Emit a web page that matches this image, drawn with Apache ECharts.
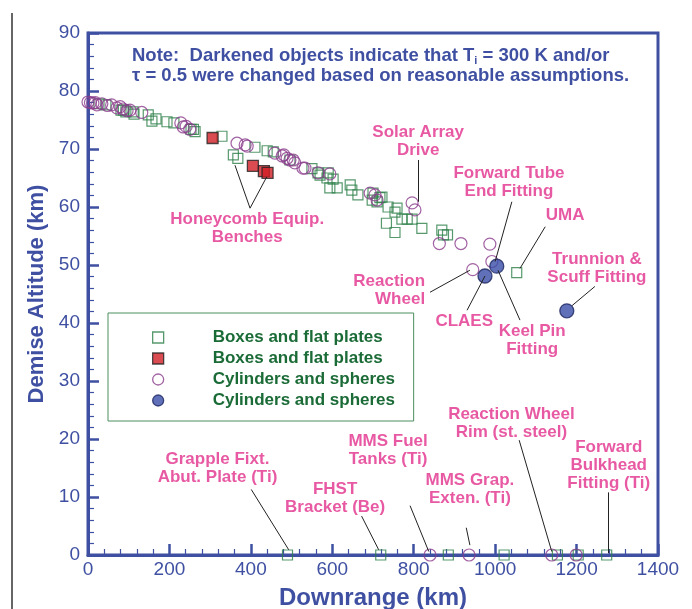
<!DOCTYPE html>
<html>
<head>
<meta charset="utf-8">
<script src="https://cdn.jsdelivr.net/npm/echarts@6/dist/echarts.min.js"></script>
<style>
  html, body { margin: 0; padding: 0; background: #fff; }
  #chart { width: 692px; height: 609px; }
</style>
</head>
<body>
<div id="chart"></div>
<script>
// Demise altitude against downrange for spacecraft components, [downrange km, altitude km]

const boxes = [
  [27,77.8],[44,77.6],[81,76.7],[87,76.7],[93,76.4],[111,76.4],[113,76.0],[148,75.9],[157,74.8],[167,75.2],
  [194,74.7],[211,74.5],[253,73.4],[259,73.4],[263,73.0],[329,72.2],[357,69.0],[368,68.4],[410,70.3],[440,69.7],
  [455,69.5],[496,68.1],[550,66.6],[565,65.9],[570,65.5],[587,65.0],[590,65.9],[602,64.8],[594,63.3],[612,63.3],
  [644,63.8],[648,62.9],[663,62.1],[698,61.2],[700,62.4],[710,60.9],[717,61.6],[722,61.7],[737,60.0],[754,59.1],
  [759,59.8],[733,57.2],[754,55.6],[771,57.9],[784,57.9],[796,57.9],[820,56.3],[869,56.0],[873,55.2],[883,55.2],
  [1053,48.7],
  [490,0],[719,0],[885,0],[1022,0],[1153,0],[1204,0],[1274,0]
];

const boxesDark = [[306,71.9],[405,67.1],[432,66.2],[441,65.9]];

const cylinders = [
  [0,78.1],[6,78.0],[12,77.9],[18,78.0],[22,77.6],[34,77.8],[48,77.5],[58,77.6],[71,77.1],[79,77.3],
  [86,76.9],[96,76.6],[103,76.7],[132,76.3],[228,74.5],[234,73.8],[241,73.9],[250,73.4],[366,71.0],[386,70.7],
  [391,70.5],[459,69.3],[477,68.8],[481,69.0],[489,68.4],[496,68.1],[504,68.1],[508,67.6],[528,66.7],[533,66.7],
  [565,65.9],[594,65.7],[693,62.4],[705,62.1],[710,61.2],[796,60.7],[803,59.5],[863,53.7],[916,53.7],[987,53.6],
  [992,50.6],[945,49.2],
  [840,0],[936,0],[1139,0],[1199,0]
];

const cylindersDark = [[975,48.1],[1004,49.8],[1176,42.1]];

const legendLabels = {
  boxes: 'Boxes and flat plates',
  boxesDark: 'Boxes and flat plates',
  cylinders: 'Cylinders and spheres',
  cylindersDark: 'Cylinders and spheres'
};

// Component call-outs: text anchored in data units
const notes = [
  { text: 'Solar Array\nDrive', at: [811, 71.4] },
  { text: 'Forward Tube\nEnd Fitting', at: [1034, 64.3] },
  { text: 'UMA', at: [1172, 58.6] },
  { text: 'Trunnion &\nScuff Fitting', at: [1250, 49.5] },
  { text: 'Reaction\nWheel', at: [828, 45.7], align: 'right' },
  { text: 'CLAES', at: [924, 40.3] },
  { text: 'Keel Pin\nFitting', at: [1091, 37.1] },
  { text: 'Honeycomb Equip.\nBenches', at: [391, 56.3] },
  { text: 'Grapple Fixt.\nAbut. Plate (Ti)', at: [318, 15.0] },
  { text: 'FHST\nBracket (Be)', at: [607, 9.8] },
  { text: 'MMS Fuel\nTanks (Ti)', at: [737, 18.0] },
  { text: 'MMS Grap.\nExten. (Ti)', at: [938, 11.3] },
  { text: 'Reaction Wheel\nRim (st. steel)', at: [1040, 22.7] },
  { text: 'Forward\nBulkhead\nFitting (Ti)', at: [1279, 15.4] }
];

// Leader lines from call-outs to their objects
const leaders = [
  [[811,68.1],[811,60.9]],
  [[1041,60.9],[1000,50.6]],
  [[1123,56.6],[1061,49.4]],
  [[1245,46.3],[1189,43.0]],
  [[840,45.3],[938,49.1]],
  [[931,42.2],[975,48.1]],
  [[1061,40.5],[1007,49.1]],
  [[398,59.8],[361,67.2]],
  [[398,59.8],[439,65.2]],
  [[401,11.3],[493,0.9]],
  [[672,6.7],[714,0.9]],
  [[791,8.5],[837,0.6]],
  [[929,4.7],[938,1.7]],
  [[1059,19.8],[1139,0.6]],
  [[1279,10.8],[1279,0.3]]
];

const FONT = '"Liberation Sans", Arial, Helvetica, sans-serif';
const BLUE = '#3f50a2';
const PINK = '#e22f8c';
const GREEN = '#2d7f48';
const PURPLE = '#8b3c8c';

const chart = echarts.init(document.getElementById('chart'), null, { renderer: 'canvas' });

const axisCommon = {
  type: 'value',
  axisLine: { show: true, onZero: false, lineStyle: { color: BLUE, width: 3 } },
  axisTick: { show: true, inside: true, length: 11, lineStyle: { color: BLUE, width: 2.5 } },
  minorTick: { show: true, splitNumber: 5, length: 6, lineStyle: { color: BLUE, width: 1.2 } },
  splitLine: { show: false },
  axisLabel: { color: BLUE, fontSize: 19, fontFamily: FONT, formatter: v => String(v) },
  nameLocation: 'middle',
  nameTextStyle: { color: BLUE, fontSize: 22, fontWeight: 'bold', fontFamily: FONT }
};

chart.setOption({
  animation: false,
  backgroundColor: '#fff',
  title: {
    left: 132,
    top: 46,
    padding: 0,
    text: 'Note:  Darkened objects indicate that T{sub|i} = 300 K and/or\nτ = 0.5 were changed based on reasonable assumptions.',
    textStyle: {
      color: BLUE, fontSize: 18.5, fontWeight: 'bold', fontFamily: FONT, lineHeight: 20,
      rich: {
        sub: { color: BLUE, fontSize: 11, fontWeight: 'bold', fontFamily: FONT, lineHeight: 11, verticalAlign: 'bottom' }
      }
    }
  },
  graphic: [
    { type: 'line', silent: true, shape: { x1: 12, y1: 13, x2: 12, y2: 609 }, style: { stroke: '#333', lineWidth: 1.5 } }
  ],
  grid: {
    left: 88, right: 34, top: 33, bottom: 54,
    outerBoundsMode: 'none', containLabel: false,
    show: true, borderColor: BLUE, borderWidth: 3
  },
  xAxis: Object.assign({}, axisCommon, {
    min: 0, max: 1400, interval: 200,
    name: 'Downrange (km)', nameGap: 31,
    nameTextStyle: Object.assign({}, axisCommon.nameTextStyle, { fontSize: 24 }),
    axisLabel: Object.assign({}, axisCommon.axisLabel, { margin: 5 })
  }),
  yAxis: Object.assign({}, axisCommon, {
    min: 0, max: 90, interval: 10,
    name: 'Demise Altitude (km)', nameGap: 39,
    axisLabel: Object.assign({}, axisCommon.axisLabel, { margin: 8 })
  }),
  legend: {
    orient: 'vertical',
    left: 108, top: 313,
    padding: [16, 11, 12, 44],
    itemWidth: 11, itemHeight: 11, itemGap: 4,
    borderColor: '#4a8f5f', borderWidth: 1, backgroundColor: '#fff',
    selectedMode: false,
    itemStyle: { borderWidth: 1.3 },
    data: ['boxes', 'boxesDark', 'cylinders', 'cylindersDark'],
    formatter: n => '{t|' + legendLabels[n] + '}',
    textStyle: {
      color: '#1b6b37', fontSize: 17, fontWeight: 'bold', fontFamily: FONT,
      rich: { t: { color: '#1b6b37', fontSize: 17, fontWeight: 'bold', fontFamily: FONT, padding: [0, 0, 0, 44], width: 190, lineHeight: 18 } }
    }
  },
  series: [
    {
      name: 'boxes', type: 'scatter', data: boxes, symbol: 'rect', symbolSize: 10, clip: false,
      itemStyle: { color: 'rgba(255,255,255,0)', borderColor: GREEN, borderWidth: 1.2 }
    },
    {
      name: 'cylinders', type: 'scatter', data: cylinders, symbol: 'circle', symbolSize: 12, clip: false,
      itemStyle: { color: 'rgba(255,255,255,0)', borderColor: PURPLE, borderWidth: 1.2 }
    },
    {
      name: 'boxesDark', type: 'scatter', data: boxesDark, symbol: 'rect', symbolSize: 11, clip: false,
      itemStyle: { color: '#d11f26', borderColor: '#222', borderWidth: 1.3 }
    },
    {
      name: 'cylindersDark', type: 'scatter', data: cylindersDark, symbol: 'circle', symbolSize: 14, clip: false,
      itemStyle: { color: '#3a4ea8', borderColor: '#1c2660', borderWidth: 1.3 }
    },
    {
      name: 'callouts', type: 'scatter', silent: true, symbolSize: 0, clip: false,
      data: notes.map(n => ({
        value: n.at,
        name: n.text,
        label: { align: n.align || 'center' }
      })),
      label: {
        show: true, position: 'inside', formatter: p => p.name,
        color: PINK, fontSize: 17, fontWeight: 'bold', fontFamily: FONT, lineHeight: 18,
        verticalAlign: 'middle'
      },
      markLine: {
        silent: true, symbol: ['none', 'none'], animation: false,
        label: { show: false },
        lineStyle: { color: '#222', width: 1, type: 'solid' },
        emphasis: { disabled: true },
        data: leaders.map(l => [{ coord: l[0] }, { coord: l[1] }])
      }
    }
  ]
});
</script>
</body>
</html>
